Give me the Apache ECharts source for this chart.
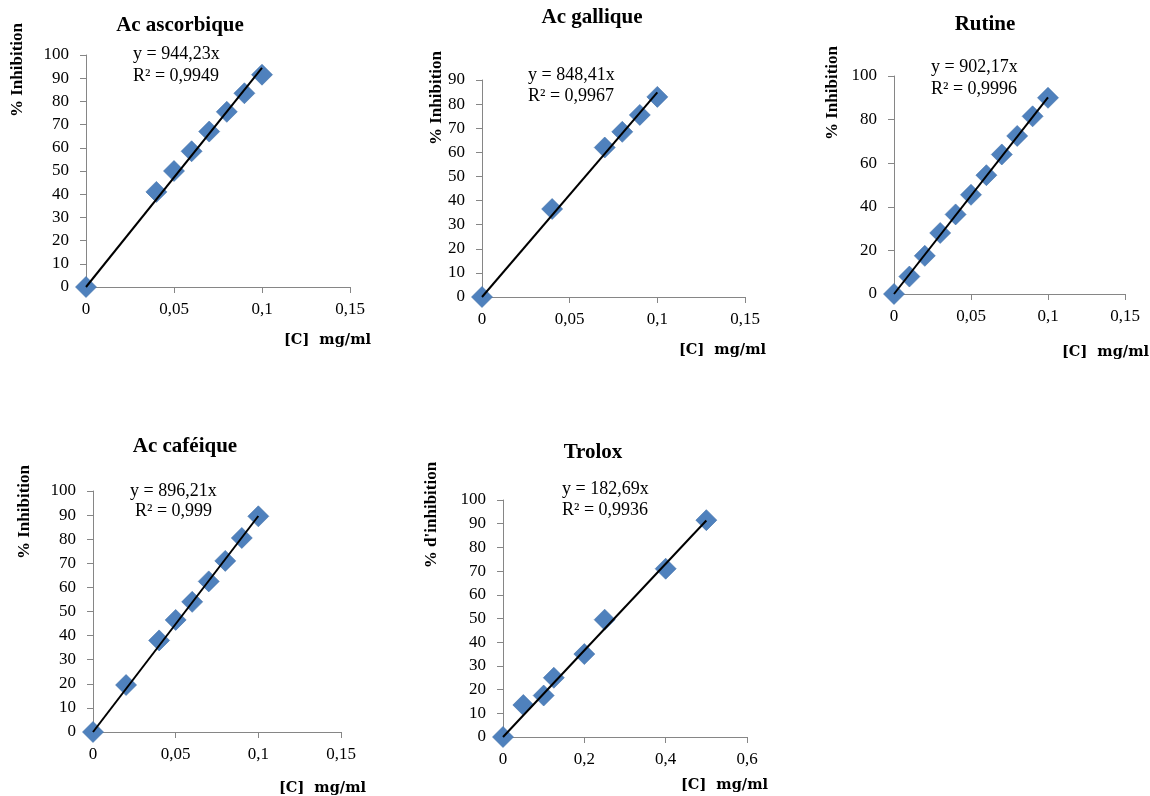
<!DOCTYPE html>
<html><head><meta charset="utf-8">
<script src="https://cdn.jsdelivr.net/npm/echarts@6/dist/echarts.min.js"></script>
<style>html,body{margin:0;padding:0;background:#fff}#c{width:1150px;height:796px}</style>
</head><body><div id="c"></div>
<script>
// ---- data ----
const titles = ['Ac ascorbique', 'Ac gallique', 'Rutine', 'Ac caféique', 'Trolox'];
const yNames = ['% Inhibition', '% Inhibition', '% Inhibition', '% Inhibition', "% d'inhibition"];
const xName = '[C]  mg/ml';
const equations = ['y = 944,23x', 'y = 848,41x', 'y = 902,17x', 'y = 896,21x', 'y = 182,69x'];
const r2Texts = ['R² = 0,9949', 'R² = 0,9967', 'R² = 0,9996', 'R² = 0,999', 'R² = 0,9936'];
const slopes = [944.23, 848.41, 902.17, 896.21, 182.69];

const ascX = [0, 0.04, 0.05, 0.06, 0.07, 0.08, 0.09, 0.1];
const ascY = [0, 41, 50, 58.5, 67, 75.5, 83.5, 91.5];
const galX = [0, 0.04, 0.07, 0.08, 0.09, 0.1];
const galY = [0, 36.5, 62, 68.5, 75.5, 83];
const rutX = [0, 0.01, 0.02, 0.03, 0.04, 0.05, 0.06, 0.07, 0.08, 0.09, 0.1];
const rutY = [0, 8, 17.5, 28, 36.5, 45.5, 54.5, 64, 72.5, 81.5, 90];
const cafX = [0, 0.02, 0.04, 0.05, 0.06, 0.07, 0.08, 0.09, 0.1];
const cafY = [0, 19.5, 38, 46.5, 54, 62.5, 71, 80.5, 89.5];
const troX = [0, 0.05, 0.1, 0.125, 0.2, 0.25, 0.4, 0.5];
const troY = [0, 13.5, 17.5, 25, 35, 49.5, 71, 91.5];

const xsAll = [ascX, galX, rutX, cafX, troX];
const ysAll = [ascY, galY, rutY, cafY, troY];
const xMax = [0.15, 0.15, 0.15, 0.15, 0.6];
const xInterval = [0.05, 0.05, 0.05, 0.05, 0.2];
const yMax = [100, 90, 100, 100, 100];
const yInterval = [10, 10, 20, 10, 10];

// ---- layout ----
const grids = [
  {left: 86, top: 55, width: 264, height: 232},
  {left: 482, top: 80, width: 263, height: 217},
  {left: 894, top: 76, width: 231, height: 218},
  {left: 93, top: 491, width: 248, height: 241},
  {left: 503, top: 500, width: 244, height: 237}
];
const titlePos = [[180, 26], [592, 18], [985, 25], [185, 447], [593, 453]];
const eqPos = [[133, 54], [528, 75], [931, 67], [130, 491], [562, 489]];
const r2Pos = [[133, 76], [528, 96], [931, 89], [135, 511], [562, 510]];
const yNamePos = [[18, 70], [437, 98], [833, 93], [25, 512], [432, 515]];
const xNamePos = [[371, 340], [766, 350], [1149, 352], [366, 788], [768, 785]];

const serif = '"Liberation Serif", "Times New Roman", serif';
const axisColor = '#868686';
const fmt = v => String(+(+v).toFixed(3)).replace('.', ',');

const option = {
  animation: false,
  backgroundColor: '#fff',
  grid: grids.map(g => Object.assign({containLabel: false}, g)),
  xAxis: grids.map((g, i) => ({
    type: 'value', gridIndex: i, min: 0, max: xMax[i], interval: xInterval[i],
    axisLine: {show: true, onZero: false, lineStyle: {color: axisColor, width: 1}},
    axisTick: {show: true, inside: false, length: 6, lineStyle: {color: axisColor}},
    axisLabel: {fontFamily: serif, fontSize: 17, color: '#000', margin: 14, formatter: fmt},
    splitLine: {show: false}
  })),
  yAxis: grids.map((g, i) => ({
    type: 'value', gridIndex: i, min: 0, max: yMax[i], interval: yInterval[i],
    axisLine: {show: true, onZero: false, lineStyle: {color: axisColor, width: 1}},
    axisTick: {show: true, inside: false, length: 6, lineStyle: {color: axisColor}},
    axisLabel: {fontFamily: serif, fontSize: 17, color: '#000', margin: 17},
    splitLine: {show: false}
  })),
  series: [],
  graphic: []
};

for (let i = 0; i < 5; i++) {
  const lastX = xsAll[i][xsAll[i].length - 1];
  option.series.push({
    type: 'line', xAxisIndex: i, yAxisIndex: i, showSymbol: false, symbol: 'none',
    data: [[0, 0], [lastX, slopes[i] * lastX]],
    lineStyle: {color: '#000', width: 2}, z: 3, silent: true
  });
  option.series.push({
    type: 'scatter', xAxisIndex: i, yAxisIndex: i, symbol: 'diamond', symbolSize: 21,
    data: xsAll[i].map((x, k) => [x, ysAll[i][k]]),
    itemStyle: {color: '#4F81BD', opacity: 1, borderColor: '#3F6FA8', borderWidth: 0.6}, z: 2
  });
  option.graphic.push({
    type: 'text', x: titlePos[i][0], y: titlePos[i][1],
    style: {text: titles[i], font: 'bold 21px ' + serif, fill: '#000', align: 'center', verticalAlign: 'middle'}
  });
  option.graphic.push({
    type: 'text', x: eqPos[i][0], y: eqPos[i][1],
    style: {text: equations[i], font: '18px ' + serif, fill: '#000', verticalAlign: 'middle'}
  });
  option.graphic.push({
    type: 'text', x: r2Pos[i][0], y: r2Pos[i][1],
    style: {text: r2Texts[i], font: '18px ' + serif, fill: '#000', verticalAlign: 'middle'}
  });
  option.graphic.push({
    type: 'text', x: yNamePos[i][0], y: yNamePos[i][1], rotation: Math.PI / 2,
    style: {text: yNames[i], font: 'bold 17px ' + serif, fill: '#000', align: 'center', verticalAlign: 'middle'}
  });
  option.graphic.push({
    type: 'text', x: xNamePos[i][0], y: xNamePos[i][1],
    style: {text: xName, font: 'bold 14.5px "DejaVu Serif", serif', fill: '#000', align: 'right', verticalAlign: 'middle'}
  });
}

const chart = echarts.init(document.getElementById('c'));
chart.setOption(option);
</script>
</body></html>
